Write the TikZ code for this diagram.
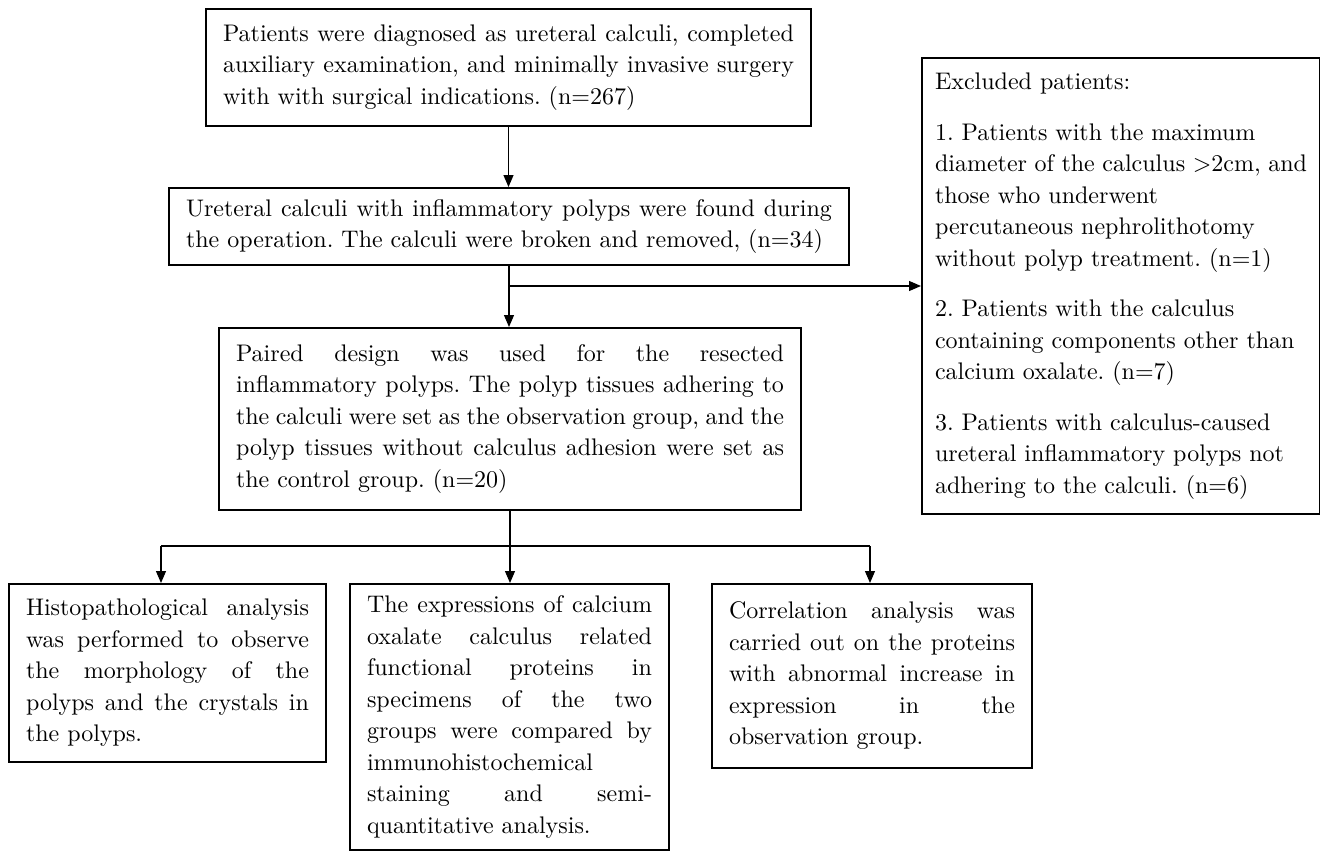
\documentclass[tikz,border=0pt]{standalone}
\usepackage{fontspec}
\setmainfont{lmroman10-regular.otf}
\usepackage{tikz}
\usetikzlibrary{arrows.meta}

\begin{document}
\begin{tikzpicture}[x=1pt,y=1pt,yscale=-1,
  box/.style={draw, line width=2pt, anchor=north west, inner xsep=17pt, inner ysep=0pt,
    align=justify, font=\fontsize{24}{31.5}\selectfont\frenchspacing},
  link/.style={line width=1.2pt},
  arr/.style={line width=1.2pt, -{Triangle[length=12pt,width=10pt]}}]
\useasboundingbox (0,0) rectangle (1320,851);

%Boxes of the main flow
\node[box, text width=571pt, minimum height=117pt] (screen) at (205,8) {Patients were diagnosed as ureteral calculi, completed\linebreak auxiliary examination, and minimally invasive surgery\linebreak with with surgical indications. (n=267)};
\node[box, text width=646pt, minimum height=77pt] (found) at (168,187) {Ureteral calculi with inflammatory polyps were found during\linebreak the operation. The calculi were broken and removed, (n=34)};
\node[box, text width=548pt, minimum height=182pt] (paired) at (218,327) {Paired design was used for the resected\linebreak inflammatory polyps. The polyp tissues adhering to\linebreak the calculi were set as the observation group, and the\linebreak polyp tissues without calculus adhesion were set as\linebreak the control group. (n=20)};

%Excluded patients
\node[box, inner xsep=13pt, text width=372pt, minimum height=456pt] (excl) at (921,57) {Excluded patients:\\[19pt]
1. Patients with the maximum\\ diameter of the calculus >2cm, and\\ those who underwent\\ percutaneous nephrolithotomy\\ without polyp treatment. (n=1)\\[19pt]
2. Patients with the calculus\\ containing components other than\\ calcium oxalate. (n=7)\\[19pt]
3. Patients with calculus-caused\\ ureteral inflammatory polyps not\\ adhering to the calculi. (n=6)};

%Analysis boxes
\node[box, text width=283pt, minimum height=178pt] (histo) at (8,583) {Histopathological analysis\linebreak was performed to observe\linebreak the morphology of the\linebreak polyps and the crystals in\linebreak the polyps.};
\node[box, text width=285pt, minimum height=266pt] (expr) at (349,583) {The expressions of calcium\linebreak oxalate calculus related\linebreak functional proteins in\linebreak specimens of the two\linebreak groups were compared by\linebreak immunohistochemical\newline staining and semi-\linebreak quantitative analysis.};
\node[box, text width=286pt, minimum height=184pt] (corr) at (711,583) {Correlation analysis was\linebreak carried out on the proteins\linebreak with abnormal increase in\linebreak expression in the\linebreak observation group.};

%Connectors
\coordinate (split) at (found.south |- excl.west);
\coordinate (forkL) at (161,546);
\coordinate (forkR) at (870,546);
\draw[arr] (screen.south) -- (screen.south |- found.north);
\draw[link] (found.south) -- (split);
\draw[arr] (split) -- (excl.west);
\draw[arr] (split) -- (split |- paired.north);
\draw[arr] (paired.south) -- (paired.south |- expr.north);
\draw[link] (forkL) -- (forkR);
\draw[arr] (forkL) -- (forkL |- histo.north);
\draw[arr] (forkR) -- (forkR |- corr.north);

\end{tikzpicture}
\end{document}
